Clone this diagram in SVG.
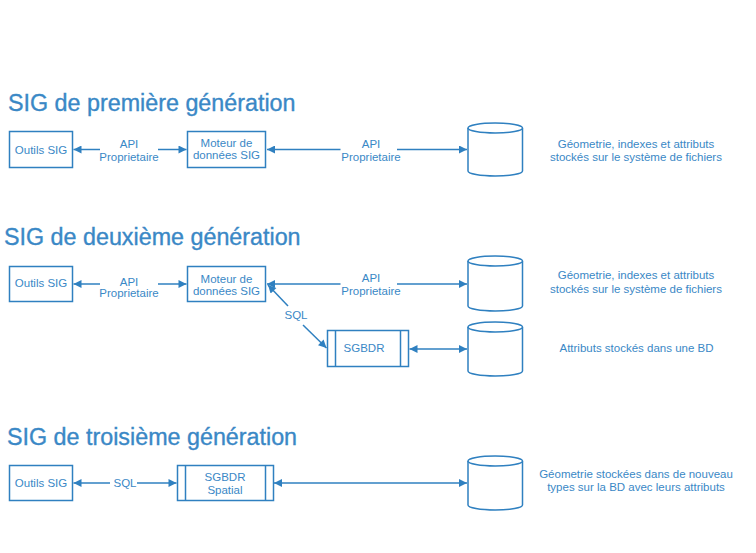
<svg xmlns="http://www.w3.org/2000/svg" width="756" height="553" viewBox="0 0 756 553">
<style>
text{font-family:"Liberation Sans",Arial,sans-serif;fill:#3a88c6;}
.t{font-size:23.3px;stroke:#3a88c6;stroke-width:0.35;}
.s{font-size:11.5px;text-anchor:middle;}
.box{fill:#fff;stroke:#2f80c0;stroke-width:1.5;}
.ln{fill:none;stroke:#2f80c0;stroke-width:1.5;}
.cyl{fill:#fff;stroke:#2f80c0;stroke-width:1.5;}
</style>
<defs>
<marker id="ah" viewBox="0 0 10 10" refX="10" refY="5" markerWidth="9" markerHeight="8" markerUnits="userSpaceOnUse" orient="auto-start-reverse">
<path d="M0,0 L10,5 L0,10 z" fill="#2f80c0"/>
</marker>
</defs>
<rect width="756" height="553" fill="#fff"/>

<text class="t" x="8" y="111">SIG de première génération</text>
<text class="t" x="4" y="245">SIG de deuxième génération</text>
<text class="t" x="7" y="445">SIG de troisième génération</text>

<g id="connectors">
<line class="ln" x1="100" y1="149.5" x2="73.5" y2="149.5" marker-end="url(#ah)"/>
<line class="ln" x1="158" y1="149.5" x2="186.5" y2="149.5" marker-end="url(#ah)"/>
<line class="ln" x1="340.5" y1="149.5" x2="267" y2="149.5" marker-end="url(#ah)"/>
<line class="ln" x1="397" y1="149.5" x2="467" y2="149.5" marker-end="url(#ah)"/>

<line class="ln" x1="100" y1="284" x2="73.5" y2="284" marker-end="url(#ah)"/>
<line class="ln" x1="158" y1="284" x2="186.5" y2="284" marker-end="url(#ah)"/>
<line class="ln" x1="340.5" y1="284" x2="267" y2="284" marker-end="url(#ah)"/>
<line class="ln" x1="397" y1="284" x2="467" y2="284" marker-end="url(#ah)"/>
<line class="ln" x1="288" y1="306" x2="268" y2="285" marker-end="url(#ah)"/>
<line class="ln" x1="303" y1="325" x2="326.5" y2="348" marker-end="url(#ah)"/>
<line class="ln" x1="409.5" y1="349" x2="467" y2="349" marker-start="url(#ah)" marker-end="url(#ah)"/>

<line class="ln" x1="110" y1="483" x2="73.5" y2="483" marker-end="url(#ah)"/>
<line class="ln" x1="137" y1="483" x2="176.5" y2="483" marker-end="url(#ah)"/>
<line class="ln" x1="274" y1="483" x2="467" y2="483" marker-start="url(#ah)" marker-end="url(#ah)"/>
</g>

<g id="labels">
<text class="s" x="129" y="148">API</text>
<text class="s" x="129" y="160.5">Proprietaire</text>
<text class="s" x="371" y="148">API</text>
<text class="s" x="371" y="160.5">Proprietaire</text>
<text class="s" x="129" y="285.5">API</text>
<text class="s" x="129" y="297">Proprietaire</text>
<text class="s" x="371" y="282">API</text>
<text class="s" x="371" y="294.5">Proprietaire</text>
<text class="s" x="296" y="319">SQL</text>
<text class="s" x="125" y="486.5">SQL</text>
</g>

<g id="outils1">
<rect class="box" x="9.5" y="131.5" width="63" height="36"/>
<text class="s" x="41" y="153.5">Outils SIG</text>
</g>
<g id="moteur1">
<rect class="box" x="187.5" y="131.5" width="78" height="36"/>
<text class="s" x="226.5" y="146.7">Moteur de</text>
<text class="s" x="226.5" y="159.3">données SIG</text>
</g>
<g id="fichiers1">
<path class="cyl" d="M468,128 v43 a27.25,5 0 0 0 54.5,0 v-43"/>
<ellipse class="cyl" cx="495.25" cy="128" rx="27.25" ry="5"/>
</g>
<g id="note1">
<text class="s" x="636" y="147.5">Géometrie, indexes et attributs</text>
<text class="s" x="636" y="160.5">stockés sur le système de fichiers</text>
</g>

<g id="outils2">
<rect class="box" x="9.5" y="266.5" width="63" height="35"/>
<text class="s" x="41" y="287">Outils SIG</text>
</g>
<g id="moteur2">
<rect class="box" x="187.5" y="266.5" width="78" height="35"/>
<text class="s" x="226.5" y="282.5">Moteur de</text>
<text class="s" x="226.5" y="295">données SIG</text>
</g>
<g id="fichiers2">
<path class="cyl" d="M468,261 v45 a27.25,5 0 0 0 54.5,0 v-45"/>
<ellipse class="cyl" cx="495.25" cy="261" rx="27.25" ry="5"/>
</g>
<g id="note2">
<text class="s" x="636" y="279.3">Géometrie, indexes et attributs</text>
<text class="s" x="636" y="292.7">stockés sur le système de fichiers</text>
</g>
<g id="sgbdr2">
<rect class="box" x="327.5" y="330.5" width="81" height="36"/>
<line class="ln" x1="335.5" y1="330.5" x2="335.5" y2="366.5"/>
<line class="ln" x1="400.5" y1="330.5" x2="400.5" y2="366.5"/>
<text class="s" x="364" y="352">SGBDR</text>
</g>
<g id="bd2">
<path class="cyl" d="M468,327 v44 a27.25,5 0 0 0 54.5,0 v-44"/>
<ellipse class="cyl" cx="495.25" cy="327" rx="27.25" ry="5"/>
</g>
<g id="note3">
<text class="s" x="636.5" y="352.3">Attributs stockés dans une BD</text>
</g>

<g id="outils3">
<rect class="box" x="9.5" y="465.5" width="63" height="35"/>
<text class="s" x="41" y="486.5">Outils SIG</text>
</g>
<g id="sgbdr3">
<rect class="box" x="177.5" y="465.5" width="96" height="35"/>
<line class="ln" x1="185.5" y1="465.5" x2="185.5" y2="500.5"/>
<line class="ln" x1="265.5" y1="465.5" x2="265.5" y2="500.5"/>
<text class="s" x="225" y="481">SGBDR</text>
<text class="s" x="225" y="494">Spatial</text>
</g>
<g id="bd3">
<path class="cyl" d="M468,461 v44 a27.25,5 0 0 0 54.5,0 v-44"/>
<ellipse class="cyl" cx="495.25" cy="461" rx="27.25" ry="5"/>
</g>
<g id="note4">
<text class="s" x="636" y="477.5">Géometrie stockées dans de nouveau</text>
<text class="s" x="636" y="490.5">types sur la BD avec leurs attributs</text>
</g>
</svg>
